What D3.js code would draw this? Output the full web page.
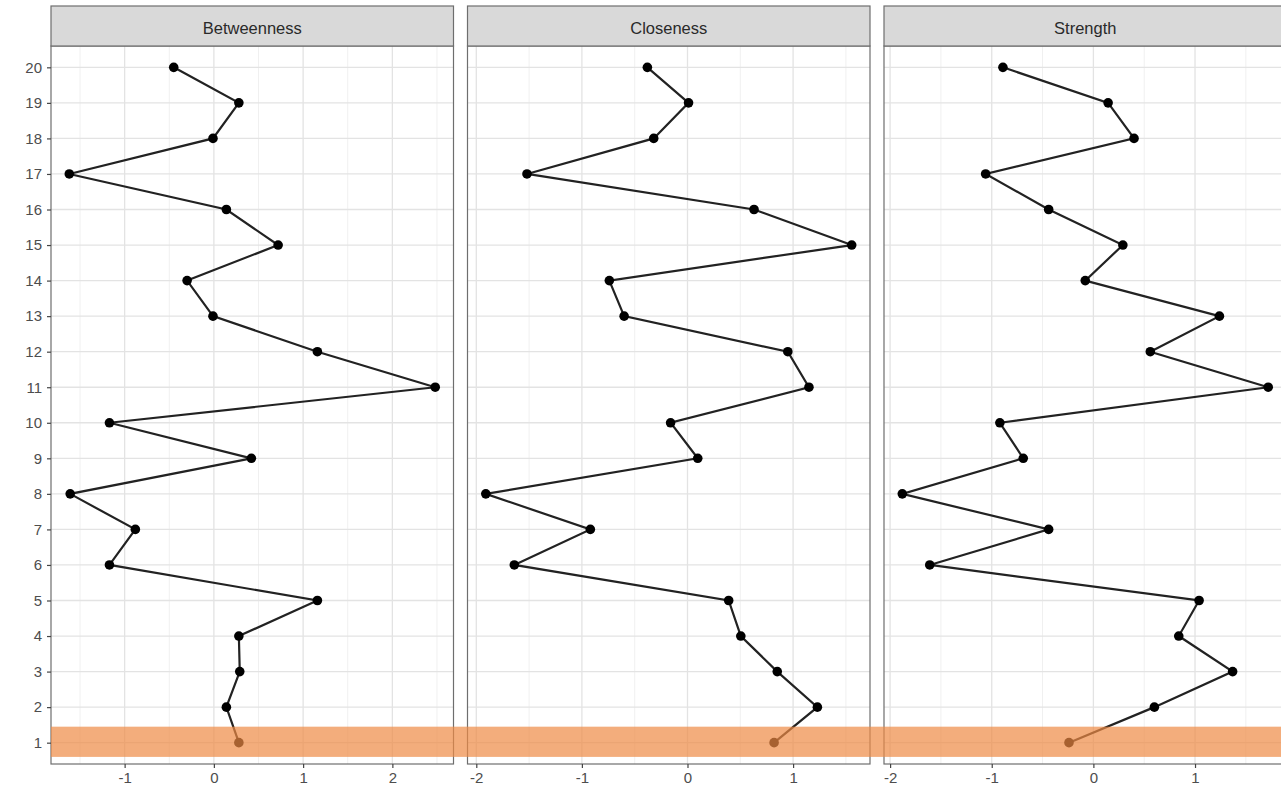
<!DOCTYPE html>
<html lang="en">
  <head>
    <meta charset="utf-8">
    <title>Centrality</title>
    <style type="text/css">
      body { margin: 0; background: #fff; }
      text { font-family: "Liberation Sans", Arial, sans-serif; }
    </style>
  </head>
  <body>
<div id="container"></div>

<script src="https://cdnjs.cloudflare.com/ajax/libs/d3/7.8.5/d3.min.js"></script>
<script>

var width = 1281, height = 797;

// ------ data ------
var nodes = [1,2,3,4,5,6,7,8,9,10,11,12,13,14,15,16,17,18,19,20];
var measures = ["Betweenness", "Closeness", "Strength"];
var betweenness = [0.28, 0.14, 0.29, 0.28, 1.16, -1.17, -0.88, -1.61, 0.42, -1.17,
                   2.48, 1.16, -0.01, -0.30, 0.72, 0.14, -1.62, -0.01, 0.28, -0.45];
var closeness = [0.82, 1.23, 0.85, 0.505, 0.39, -1.64, -0.92, -1.91, 0.097, -0.16,
                 1.15, 0.95, -0.60, -0.74, 1.555, 0.63, -1.52, -0.32, 0.01, -0.38];
var strength = [-0.24, 0.60, 1.37, 0.84, 1.04, -1.61, -0.44, -1.88, -0.69, -0.92,
                1.72, 0.56, 1.24, -0.08, 0.29, -0.44, -1.06, 0.40, 0.145, -0.89];
var xTicks = [[-1, 0, 1, 2], [-2, -1, 0, 1], [-2, -1, 0, 1]];
var highlight = [0.6, 1.45];   // node band marked in orange
// ------------------

var series = [betweenness, closeness, strength];

var margin = {left: 51, top: 6},
    stripH = 40,
    panelW = 402.5,
    gap = 14,
    panelTop = margin.top + stripH,
    panelBottom = 764;

// ggplot style labels: plain hyphen for negatives
function fmt(d){ return String(d); }

var svg = d3.select("#container").append("svg")
    .attr("width", width)
    .attr("height", height);

var y = d3.scaleLinear()
    .domain([0.4, 20.6])
    .range([panelBottom, panelTop]);

function panelX(i){
  var vals = series[i];
  var lo = d3.min(vals), hi = d3.max(vals), pad = (hi - lo) * 0.05;
  var x0 = margin.left + i * (panelW + gap);
  return d3.scaleLinear().domain([lo - pad, hi + pad]).range([x0, x0 + panelW]);
}

measures.forEach(function(name, i){
  var x = panelX(i);
  var x0 = x.range()[0], x1 = x.range()[1];
  var g = svg.append("g");
  var dom = x.domain();

  g.append("rect")
    .attr("x", x0).attr("y", panelTop)
    .attr("width", panelW).attr("height", panelBottom - panelTop)
    .attr("fill", "#fff");

  // minor grid
  var minor = d3.range(Math.ceil(dom[0] * 2) / 2, dom[1], 0.5).filter(function(v){ return Math.abs(v % 1) > 0.1; });
  g.selectAll(".minor").data(minor).enter().append("line")
    .attr("x1", function(d){ return x(d); }).attr("x2", function(d){ return x(d); })
    .attr("y1", panelTop).attr("y2", panelBottom)
    .attr("stroke", "#f0f0f0").attr("stroke-width", 1);
  // major grid
  g.selectAll(".vmaj").data(xTicks[i]).enter().append("line")
    .attr("x1", function(d){ return x(d); }).attr("x2", function(d){ return x(d); })
    .attr("y1", panelTop).attr("y2", panelBottom)
    .attr("stroke", "#e3e3e3").attr("stroke-width", 1.3);
  g.selectAll(".hmaj").data(nodes).enter().append("line")
    .attr("x1", x0).attr("x2", x1)
    .attr("y1", function(d){ return y(d); }).attr("y2", function(d){ return y(d); })
    .attr("stroke", "#e3e3e3").attr("stroke-width", 1.3);

  // line + points
  var pts = nodes.map(function(n, k){ return {node: n, v: series[i][k]}; }).reverse();
  var line = d3.line().x(function(d){ return x(d.v); }).y(function(d){ return y(d.node); });
  g.append("path").datum(pts)
    .attr("d", line)
    .attr("fill", "none").attr("stroke", "#222").attr("stroke-width", 2.2);
  g.selectAll(".pt").data(pts).enter().append("circle")
    .attr("cx", function(d){ return x(d.v); })
    .attr("cy", function(d){ return y(d.node); })
    .attr("r", 4.8).attr("fill", "#000");

  // panel border
  g.append("rect")
    .attr("x", x0).attr("y", panelTop)
    .attr("width", panelW).attr("height", panelBottom - panelTop)
    .attr("fill", "none").attr("stroke", "#6e6e6e").attr("stroke-width", 1.2);

  // strip
  g.append("rect")
    .attr("x", x0).attr("y", margin.top)
    .attr("width", panelW).attr("height", stripH)
    .attr("fill", "#d9d9d9").attr("stroke", "#6e6e6e").attr("stroke-width", 1.2);
  g.append("text")
    .attr("x", (x0 + x1) / 2).attr("y", margin.top + stripH / 2 + 8)
    .attr("text-anchor", "middle")
    .attr("font-size", 16.5).attr("fill", "#2a2a2a")
    .text(name);

  // x axis
  var ax = g.append("g").attr("transform", "translate(0," + panelBottom + ")")
    .call(d3.axisBottom(x).tickValues(xTicks[i]).tickSize(4).tickPadding(4).tickFormat(fmt));
  ax.select(".domain").remove();
  ax.selectAll("line").attr("stroke", "#444").attr("stroke-width", 1.2);
  ax.selectAll("text").attr("font-size", 15).attr("fill", "#4d4d4d")
    .style("font-family", "'Liberation Sans', Arial, sans-serif");
});

// y axis
var ay = svg.append("g").attr("transform", "translate(" + margin.left + ",0)")
  .call(d3.axisLeft(y).tickValues(nodes).tickSize(4).tickPadding(5).tickFormat(fmt));
ay.select(".domain").remove();
ay.selectAll("line").attr("stroke", "#444").attr("stroke-width", 1.2);
ay.selectAll("text").attr("font-size", 15).attr("fill", "#4d4d4d")
  .style("font-family", "'Liberation Sans', Arial, sans-serif");

// orange highlight band over node 1
svg.append("rect")
  .attr("x", margin.left).attr("y", y(highlight[1]))
  .attr("width", width - margin.left).attr("height", y(highlight[0]) - y(highlight[1]))
  .attr("fill", "#ee8a45").attr("opacity", 0.7);

</script>
  </body>
</html>
